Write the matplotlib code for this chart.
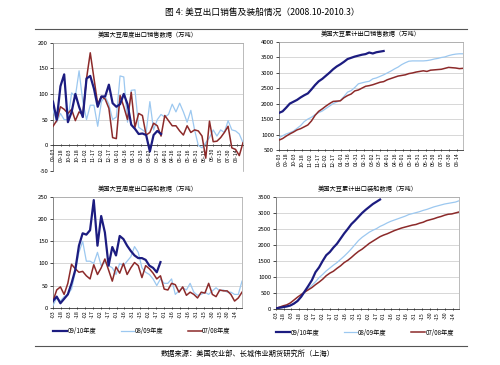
import matplotlib
matplotlib.use("Agg")
import matplotlib.pyplot as plt
import numpy as np

plt.rcParams['font.family'] = ['Noto Sans CJK SC', 'DejaVu Sans']
plt.rcParams['axes.unicode_minus'] = False

# weekly data, week 0 = 09-03
top_labels = ['09-03', '09-18', '10-03', '10-18', '11-02', '11-17', '12-02', '12-17',
              '01-01', '01-16', '01-31', '02-15', '03-02', '03-17', '04-01', '04-16',
              '05-01', '05-16', '05-31', '06-15', '06-30', '07-15', '07-30', '08-14']
bottom_labels = [s[2:] for s in top_labels]
label_days = np.arange(0, 346, 15)
series_names = ['09/10年度', '08/09年度', '07/08年度']

# 周度出口销售
sales_0910 = [85, 50, 115, 138, 45, 65, 100, 75, 55, 130, 135, 110, 75, 95, 95, 118,
              82, 75, 80, 100, 80, 40, 32, 22, 23, 20, -12, 20, 28, 22]
sales_0809 = [70, 45, 62, 50, 50, 102, 95, 145, 85, 50, 78, 78, 37, 85, 95, 80, 50, 55,
              135, 133, 45, 107, 108, 35, 30, 25, 85, 30, 50, 60, 55, 60, 80, 65, 82, 65,
              45, 68, 30, 0, -5, 5, 15, 30, 18, 30, 25, 48, 30, 28, 22, 5]
sales_0708 = [37, 48, 75, 70, 62, 70, 48, 65, 60, 130, 180, 130, 80, 95, 90, 72, 15, 13,
              97, 75, 50, 103, 35, 62, 58, 20, 25, 43, 38, 18, 58, 48, 38, 38, 28, 20, 38,
              25, 30, 28, 18, -25, 47, 7, 8, 15, 25, 37, -5, -8, -20, 5]

# 累计出口销售
cum_sales_0910 = [1700, 1750, 1870, 2000, 2060, 2120, 2200, 2270, 2330, 2460, 2600, 2720,
                  2800, 2900, 3000, 3110, 3200, 3270, 3350, 3440, 3480, 3520, 3550, 3580,
                  3600, 3650, 3620, 3660, 3680, 3700]
cum_sales_0809 = [900, 960, 1020, 1060, 1110, 1200, 1290, 1420, 1500, 1560, 1640, 1710,
                  1760, 1840, 1920, 2000, 2050, 2100, 2230, 2370, 2420, 2520, 2640, 2670,
                  2700, 2720, 2800, 2830, 2880, 2930, 2990, 3050, 3120, 3180, 3260, 3320,
                  3370, 3380, 3380, 3380, 3380, 3390, 3410, 3440, 3460, 3490, 3510, 3550,
                  3580, 3600, 3610, 3610]
cum_sales_0708 = [820, 870, 950, 1020, 1080, 1150, 1190, 1250, 1310, 1440, 1620, 1750,
                  1830, 1920, 2000, 2070, 2080, 2090, 2190, 2260, 2310, 2410, 2440, 2500,
                  2560, 2580, 2610, 2650, 2690, 2710, 2770, 2810, 2850, 2890, 2910, 2930,
                  2970, 2990, 3020, 3040, 3060, 3040, 3080, 3090, 3100, 3110, 3140, 3170,
                  3160, 3150, 3130, 3140]

# 周度出口装船
ship_0910 = [15, 25, 10, 20, 30, 55, 85, 140, 168, 165, 175, 243, 140, 207, 170, 95, 137,
             118, 162, 155, 140, 128, 118, 112, 112, 108, 95, 90, 80, 103]
ship_0809 = [5, 22, 15, 25, 30, 42, 80, 125, 150, 105, 105, 100, 125, 95, 105, 95, 90, 75,
             100, 95, 105, 115, 138, 125, 90, 80, 75, 65, 50, 65, 55, 55, 65, 30, 38, 45,
             40, 55, 35, 28, 30, 35, 30, 38, 45, 38, 40, 35, 35, 30, 30, 60]
ship_0708 = [15, 40, 47, 30, 55, 98, 88, 80, 82, 72, 65, 97, 75, 90, 110, 85, 60, 92, 78,
             100, 75, 90, 102, 95, 68, 95, 88, 78, 65, 72, 42, 40, 55, 52, 35, 47, 28, 35,
             30, 22, 35, 33, 55, 30, 25, 40, 38, 38, 30, 15, 22, 35]

# 累计出口装船
cum_ship_0910 = [20, 40, 60, 80, 110, 170, 250, 380, 550, 720, 900, 1150, 1300, 1500,
                 1680, 1780, 1920, 2040, 2200, 2360, 2500, 2650, 2760, 2880, 3000, 3100,
                 3190, 3280, 3350, 3420]
cum_ship_0809 = [10, 30, 50, 80, 110, 160, 250, 370, 520, 630, 740, 850, 980, 1080, 1190,
                 1280, 1370, 1450, 1550, 1650, 1760, 1880, 2010, 2140, 2240, 2320, 2400,
                 2460, 2510, 2580, 2630, 2690, 2740, 2780, 2820, 2860, 2900, 2950, 2980,
                 3010, 3040, 3080, 3110, 3150, 3190, 3220, 3250, 3280, 3300, 3320, 3340, 3380]
cum_ship_0708 = [20, 60, 100, 130, 190, 280, 370, 450, 530, 600, 670, 760, 840, 930, 1040,
                 1120, 1180, 1270, 1350, 1450, 1520, 1610, 1710, 1800, 1870, 1960, 2050,
                 2120, 2190, 2260, 2310, 2350, 2400, 2450, 2490, 2530, 2560, 2590, 2620,
                 2640, 2680, 2710, 2760, 2790, 2820, 2860, 2890, 2930, 2960, 2970, 3000, 3030]

colors = ['#1c1c80', '#9cc8f0', '#8c2a2a']
widths = [1.6, 0.9, 1.1]


def draw(ax, data, ylim, ystep, labels, title, zero_axis=False):
    if zero_axis:
        # category axis crosses at 0, like the excel original
        ax.spines['bottom'].set_position(('data', 0))
    # plot the older seasons first so 09/10 sits on top
    for i in [1, 2, 0]:
        ax.plot(np.arange(len(data[i])), data[i], color=colors[i], lw=widths[i],
                label=series_names[i], zorder=3 + (i == 0))
    ax.set_xlim(0, 51)
    ax.set_ylim(*ylim)
    ax.set_yticks(np.arange(ylim[0], ylim[1] + 1, ystep))
    ax.set_xticks(label_days / 7.0)
    ax.set_xticklabels(labels, rotation=90, fontsize=3.8)
    ax.tick_params(axis='y', labelsize=4.3, length=2, width=0.5, pad=1.5)
    ax.tick_params(axis='x', length=2, width=0.5, pad=1, direction='inout')
    ax.grid(axis='y', color='#c8c8c8', lw=0.5)
    ax.set_axisbelow(True)
    for s in ['top', 'right']:
        ax.spines[s].set_color('#a0a0a0')
        ax.spines[s].set_linewidth(0.5)
    ax.spines['left'].set_color('#555555')
    ax.spines['left'].set_linewidth(0.5)
    ax.spines['bottom'].set_color('#333333')
    ax.spines['bottom'].set_linewidth(0.6)
    ax.set_title(title, fontsize=4.5, pad=4)


fig = plt.figure(figsize=(5, 3.65), dpi=100)

ax1 = fig.add_axes([0.106, 0.5315, 0.38, 0.352])
draw(ax1, [sales_0910, sales_0809, sales_0708], (-50, 200), 50, top_labels,
     '美国大豆周度出口销售数据（万吨）', zero_axis=True)

ax2 = fig.add_axes([0.558, 0.589, 0.368, 0.2967])
draw(ax2, [cum_sales_0910, cum_sales_0809, cum_sales_0708], (500, 4000), 500, top_labels,
     '美国大豆累计出口销售数据（万吨）')

ax3 = fig.add_axes([0.106, 0.157, 0.378, 0.3033])
draw(ax3, [ship_0910, ship_0809, ship_0708], (0, 250), 50, bottom_labels,
     '美国大豆周度出口装船数据（万吨）')

ax4 = fig.add_axes([0.552, 0.1534, 0.366, 0.307])
draw(ax4, [cum_ship_0910, cum_ship_0809, cum_ship_0708], (0, 3500), 500, bottom_labels,
     '美国大豆累计出口装船数据（万吨）')

for ax in [ax3, ax4]:
    h, l = ax.get_legend_handles_labels()
    order = [l.index(n) for n in series_names]
    ax.legend([h[k] for k in order], [l[k] for k in order], loc='center left',
              bbox_to_anchor=(0.0, -0.21), ncol=3, frameon=False, fontsize=4.5,
              handlelength=2.2, handletextpad=0.1, columnspacing=3.9,
              borderaxespad=0, borderpad=0)

fig.text(0.524, 0.965, '图 4: 美豆出口销售及装船情况（2008.10-2010.3）', ha='center',
         va='center', fontsize=6.3)
fig.add_artist(plt.Line2D([0.07, 0.934], [0.921, 0.921], color='#555555', lw=0.8))
fig.add_artist(plt.Line2D([0.07, 0.934], [0.052, 0.052], color='#555555', lw=0.8))
fig.text(0.496, 0.03, '数据来源：美国农业部、长城伟业期货研究所（上海）', ha='center',
         va='center', fontsize=5.2)

fig.savefig('out.png', dpi=100)
